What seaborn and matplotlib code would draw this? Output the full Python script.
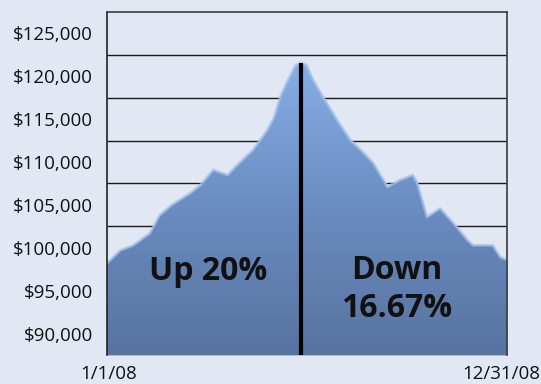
import numpy as np
import pandas as pd
import matplotlib
matplotlib.use("Agg")
import matplotlib.pyplot as plt
import matplotlib.transforms as mtransforms
from matplotlib.colors import LinearSegmentedColormap
from matplotlib.patches import PathPatch
import seaborn as sns

# ---- data ----
days = [0, 12, 24, 39, 48, 59, 76, 85, 97, 110, 119, 133, 146, 152, 158, 164,
        172, 177, 182, 188, 199, 210, 222, 234, 243, 256, 267, 279, 283, 292,
        304, 316, 329, 334, 352, 359, 365]
values = [98200, 99700, 100300, 101700, 103800, 105000, 106400, 107300, 109100,
          108500, 109700, 111400, 113700, 115100, 117600, 119300, 121300, 121600,
          121300, 119600, 117200, 114900, 112600, 111100, 109900, 107100, 107900,
          108500, 107600, 103600, 104600, 102900, 100900, 100300, 100300, 98900, 98600]
y_ticks = [90000, 95000, 100000, 105000, 110000, 115000, 120000, 125000]
y_labels = ["$90,000", "$95,000", "$100,000", "$105,000", "$110,000",
            "$115,000", "$120,000", "$125,000"]
x_ticks = [0, 365]
x_labels = ["1/1/08", "12/31/08"]
up_label = "Up 20%"
down_label = "Down\n16.67%"

df = pd.DataFrame({"day": days, "value": values})

BG = "#e2e8f3"
sns.set_theme(style="white")
plt.rcParams["font.family"] = ["Open Sans", "DejaVu Sans"]

fig = plt.figure(figsize=(5.41, 3.84), dpi=100, facecolor=BG)
ax = fig.add_axes([107/541, 1-355/384, 400/541, 343/384])
ax.set_facecolor(BG)

y_lo, y_hi = 87500, 127500
ax.set_xlim(0, 365)
ax.set_ylim(y_lo, y_hi)

# grid lines between the labels
ax.set_yticks(y_ticks)
ax.set_yticklabels(y_labels)
ax.set_yticks([v + 2500 for v in y_ticks[:-1]], minor=True)
ax.grid(False)
ax.grid(True, which="minor", axis="y", color="#1a1a1a", linewidth=1.0, zorder=1)
ax.tick_params(axis="y", which="both", length=0, pad=10, labelsize=13.5, labelcolor="#111111")

# area with vertical gradient
fill = ax.fill_between(df["day"], y_lo, df["value"], color="#6f93c8", linewidth=0, zorder=2)
path = fill.get_paths()[0]
patch = PathPatch(path, transform=ax.transData, facecolor="none", edgecolor="none")
ax.add_patch(patch)
cmap = LinearSegmentedColormap.from_list("g", ["#5873a0", "#6a8cc0", "#86aee6"])
grad = np.linspace(0, 1, 256).reshape(-1, 1)
im = ax.imshow(grad, extent=[0, 365, y_lo, max(values)], origin="lower", cmap=cmap,
               aspect="auto", zorder=3, interpolation="bicubic")
im.set_clip_path(patch)
ax.set_xlim(0, 365)
ax.set_ylim(y_lo, y_hi)

# soft light edge
sns.lineplot(data=df, x="day", y="value", ax=ax, color="#a9c5ec", linewidth=2.0,
             alpha=0.7, zorder=4)

# vertical divider at the peak
peak_i = int(np.argmax(values))
ax.vlines(days[peak_i], y_lo, values[peak_i], color="black", linewidth=3, zorder=5)

# annotations
ax.text(92, 97200, up_label, ha="center", va="center", fontsize=23,
        fontweight="bold", color="#111111", zorder=6)
ax.text(264, 95100, down_label, ha="center", va="center", fontsize=23,
        fontweight="bold", color="#111111", linespacing=1.2, zorder=6)

# x ticks
ax.set_xticks(x_ticks)
ax.set_xticklabels(x_labels)
ax.tick_params(axis="x", length=0, pad=7, labelsize=13.5, labelcolor="#111111")
lbls = ax.get_xticklabels()
lbls[0].set_transform(lbls[0].get_transform() + mtransforms.ScaledTranslation(2/100, 0, fig.dpi_scale_trans))
lbls[1].set_transform(lbls[1].get_transform() + mtransforms.ScaledTranslation(-6/100, 0, fig.dpi_scale_trans))

ax.set_xlabel("")
ax.set_ylabel("")
for side in ["left", "top", "right", "bottom"]:
    ax.spines[side].set_visible(True)
    ax.spines[side].set_color("#3a3a3a")
    ax.spines[side].set_linewidth(1.2)
    ax.spines[side].set_zorder(7)
ax.spines["bottom"].set_visible(False)
ax.spines["left"].set_color("#222222")

fig.savefig("out.png", dpi=100, facecolor=BG)
